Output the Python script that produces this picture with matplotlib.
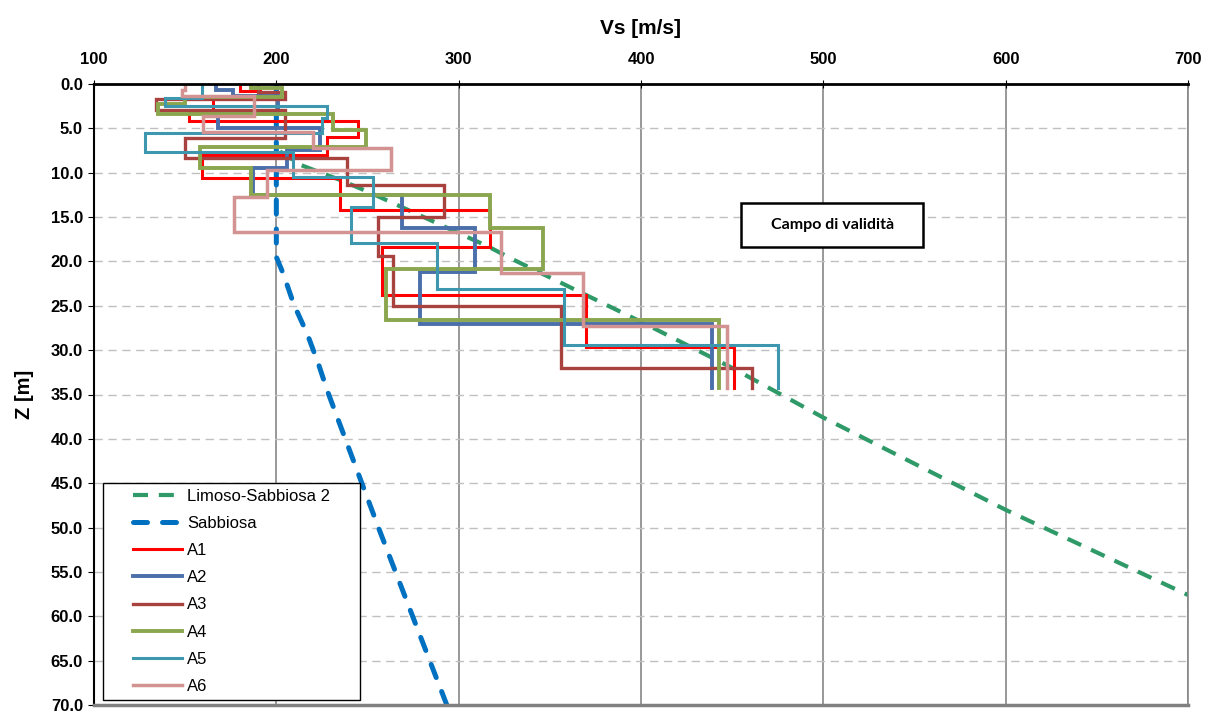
import matplotlib
matplotlib.use('Agg')
import matplotlib.pyplot as plt
import numpy as np
from matplotlib.patches import Rectangle
from matplotlib.lines import Line2D
from matplotlib.legend_handler import HandlerLine2D

plt.rcParams['font.family'] = ['Liberation Sans', 'DejaVu Sans']

# reference curves (vs, z)
limoso_vs = [202, 213, 236, 252, 268, 284, 302, 316, 330, 400, 450, 500, 550, 600, 650, 700]
limoso_z = [7.6, 9.1, 10.9, 12.3, 13.8, 15.3, 17.0, 18.3, 19.8, 26.8, 32.0, 37.6, 42.8, 48.0, 52.8, 57.6]
sabbiosa_vs = [200, 200, 204, 209.5, 217, 223, 228, 256, 293.5]
sabbiosa_z = [0, 19.5, 21.5, 24.8, 28.2, 31.5, 34.6, 50, 70]

# step profiles: layer boundaries (m) and Vs of each layer (m/s)
a1_z = [0, 0.8, 1.5, 3.0, 4.2, 6.0, 8.0, 10.6, 14.2, 18.4, 23.8, 29.6, 34.3]
a1_vs = [180, 191, 165, 152, 245, 228, 159, 235, 317, 258, 370, 451]
a2_z = [0, 0.7, 1.3, 3.3, 5.0, 7.4, 9.5, 12.5, 16.2, 21.2, 27.0, 34.3]
a2_vs = [167, 176, 201, 168, 224, 206, 187, 269, 309, 279, 439]
a3_z = [0, 0.9, 1.7, 2.9, 6.1, 8.3, 11.4, 15.0, 19.4, 25.0, 32.0, 34.3]
a3_vs = [190, 205, 134, 205, 150, 239, 292, 256, 264, 356, 461]
a4_z = [0, 0.5, 1.5, 2.2, 3.4, 5.2, 7.1, 9.5, 12.5, 16.2, 20.8, 26.6, 34.3]
a4_vs = [186, 203, 150, 135, 231, 249, 158, 186, 317, 346, 260, 443]
a5_z = [0, 1.6, 2.5, 3.8, 5.5, 7.7, 10.5, 13.9, 17.9, 23.1, 29.4, 34.3]
a5_vs = [159, 139, 228, 225, 128, 209, 253, 241, 288, 358, 475]
a6_z = [0, 0.7, 1.4, 3.6, 5.4, 7.2, 9.7, 12.7, 16.7, 21.3, 27.3, 34.3]
a6_vs = [150, 148, 188, 160, 220, 263, 195, 177, 323, 368, 447]

profiles = [
    ('A1', a1_z, a1_vs, '#FF0000', 2.2),
    ('A2', a2_z, a2_vs, '#4A6FAA', 2.8),
    ('A3', a3_z, a3_vs, '#A8423F', 2.4),
    ('A4', a4_z, a4_vs, '#8AA64E', 2.8),
    ('A5', a5_z, a5_vs, '#3D97AE', 2.2),
    ('A6', a6_z, a6_vs, '#D39392', 2.5),
]


def steps(z, vs):
    x = np.repeat(vs, 2)
    y = np.column_stack([z[:-1], z[1:]]).ravel()
    return x, y


fig = plt.figure(figsize=(12.15, 7.13), dpi=100)
ax = fig.add_axes([94 / 1215, 8 / 713, 1094 / 1215, 621 / 713])

ax.plot(limoso_vs, limoso_z, color='#2F9A68', lw=3.0, ls=(0, (3.6, 2.6)),
        label='Limoso-Sabbiosa 2')
ax.plot(sabbiosa_vs, sabbiosa_z, color='#0070C0', lw=3.6, ls=(0, (2.8, 3.0)),
        dash_capstyle='round', label='Sabbiosa')
for name, z, vs, col, lw in profiles:
    x, y = steps(np.array(z), np.array(vs))
    ax.plot(x, y, color=col, lw=lw, label=name, solid_joinstyle='miter')

ax.set_xlim(100, 700)
ax.set_ylim(70, 0)
ax.set_xticks(np.arange(100, 701, 100))
ax.set_yticks(np.arange(0, 70.1, 5))
ax.set_yticklabels(['%.1f' % v for v in np.arange(0, 70.1, 5)])

ax.xaxis.tick_top()
ax.xaxis.set_label_position('top')
ax.tick_params(axis='x', direction='inout', length=6, pad=9, labelsize=12)
ax.tick_params(axis='y', direction='out', length=4, pad=4, labelsize=12)
for lab in ax.get_xticklabels() + ax.get_yticklabels():
    lab.set_fontweight('bold')

ax.set_xlabel('Vs [m/s]', fontsize=15, fontweight='bold', labelpad=13)
ax.set_ylabel('Z [m]', fontsize=14.5, fontweight='bold', labelpad=12)

ax.set_axisbelow(True)
ax.grid(axis='x', color='#868686', lw=1.2, ls='-')
ax.grid(axis='y', color='#C0C0C0', lw=1.0, ls=(0, (6, 4)))

ax.spines['top'].set_linewidth(2)
ax.spines['left'].set_linewidth(1.5)
ax.spines['right'].set_color('#868686')
ax.spines['right'].set_linewidth(1.2)
ax.spines['bottom'].set_color('#808080')
ax.spines['bottom'].set_linewidth(2.5)

# "Campo di validita" box
ax.add_patch(Rectangle((454.8, 13.4), 99.9, 5.0, facecolor='white',
                       edgecolor='black', lw=1.8, zorder=6))
ax.text(504.8, 15.9, 'Campo di validità', ha='center', va='center',
        fontsize=11.5, fontweight='bold', family=['Lato', 'DejaVu Sans'], zorder=7)

# legend handles indented from the frame like the original
leg = ax.legend(loc='upper left', bbox_to_anchor=(0.0082, 0.3575, 0.235, 0),
                mode='expand', borderaxespad=0, fancybox=False, framealpha=1,
                edgecolor='black', prop={'size': 12}, labelspacing=0.73,
                handlelength=4.4, handletextpad=0.3, borderpad=0.35,
                handler_map={Line2D: HandlerLine2D(xpad=1.45)})
leg.get_frame().set_linewidth(1.0)

fig.savefig('out.png', dpi=100)
